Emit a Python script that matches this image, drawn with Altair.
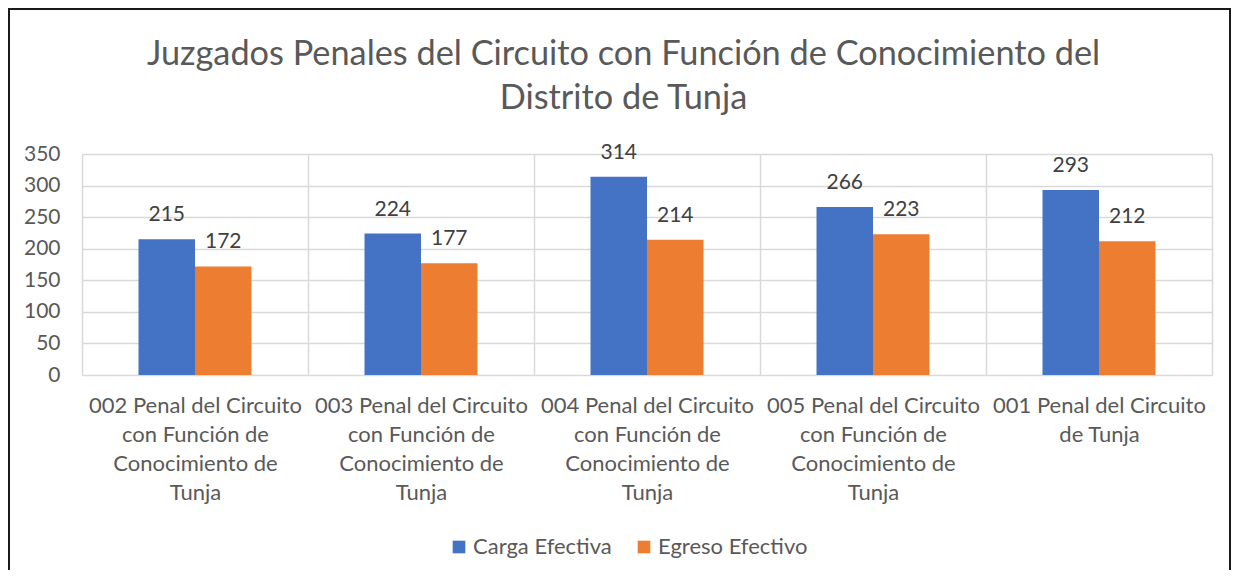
import altair as alt
import pandas as pd

categories = [
    "002 Penal del Circuito|con Función de|Conocimiento de|Tunja",
    "003 Penal del Circuito|con Función de|Conocimiento de|Tunja",
    "004 Penal del Circuito|con Función de|Conocimiento de|Tunja",
    "005 Penal del Circuito|con Función de|Conocimiento de|Tunja",
    "001 Penal del Circuito|de Tunja",
]
series = ["Carga Efectiva", "Egreso Efectivo"]
carga = [215, 224, 314, 266, 293]
egreso = [172, 177, 214, 223, 212]
colors = ["#4472C4", "#ED7D31"]
y_ticks = [0, 50, 100, 150, 200, 250, 300, 350]
title_lines = ["Juzgados Penales del Circuito con Función de Conocimiento del", "Distrito de Tunja"]

rows = []
for c, a, b in zip(categories, carga, egreso):
    rows.append({"cat": c, "serie": series[0], "valor": a})
    rows.append({"cat": c, "serie": series[1], "valor": b})
df = pd.DataFrame(rows)

FONT = "Lato"
GRID = "#D9D9D9"
FS = 21
FSX = 22

x = alt.X(
    "cat:N", sort=categories, title=None,
    scale=alt.Scale(paddingInner=0, paddingOuter=0),
    axis=alt.Axis(
        labelExpr="datum.value ? split(datum.value, '|') : ''", labelAngle=0,
        grid=True, tickBand="extent",
        ticks=False, domain=False, labelFontSize=FSX, labelColor="#595959",
        labelLineHeight=29, labelPadding=20, labelFont=FONT,
        gridColor=GRID, gridWidth=1.5, labelLimit=300,
    ),
)
xo = alt.XOffset("serie:N", sort=series, scale=alt.Scale(paddingOuter=1, paddingInner=0))
y = alt.Y(
    "valor:Q", title=None, scale=alt.Scale(domain=[0, 350]),
    axis=alt.Axis(
        values=y_ticks, ticks=False, domain=False, labelFontSize=FS,
        labelColor="#595959", labelFont=FONT, labelPadding=22,
        gridColor=GRID, gridWidth=1.5,
    ),
)

base = alt.Chart(df)
bars = base.mark_bar().encode(
    x=x, xOffset=xo, y=y,
    color=alt.Color(
        "serie:N", sort=series, title=None,
        scale=alt.Scale(domain=series, range=colors),
        legend=alt.Legend(
            orient="none", legendX=366, legendY=382, direction="horizontal",
            symbolType="square", symbolSize=160, symbolStrokeWidth=0,
            labelFontSize=FSX, labelFont=FONT, labelColor="#595959",
            labelOffset=3, columnPadding=21, labelLimit=300,
        ),
    ),
)
labels = base.mark_text(
    fontSize=FS, font=FONT, color="#404040", baseline="alphabetic", dy=-18
).encode(x=x, xOffset=xo, y=y, text="valor:Q")

one = pd.DataFrame({"f": [0]})
title = alt.Chart(one).mark_text(
    text=title_lines, fontSize=34.3, font=FONT, color="#595959", lineHeight=44,
    align="center", baseline="alphabetic",
).encode(x=alt.value(541.5), y=alt.value(-89))

frame = alt.Chart(one).mark_rect(
    filled=False, stroke="#1a1a1a", strokeWidth=2
).encode(
    x=alt.value(-73), x2=alt.value(1148), y=alt.value(-145), y2=alt.value(600)
)

chart = alt.layer(bars, labels, title, frame).properties(
    width=1130, height=221,
    autosize=alt.AutoSizeParams(type="none"),
    padding={"left": 74, "top": 146, "right": 27, "bottom": 195},
).configure_view(strokeWidth=0).configure(background="white")

chart.save("out.html", embed_options={"renderer": "svg", "actions": False})
